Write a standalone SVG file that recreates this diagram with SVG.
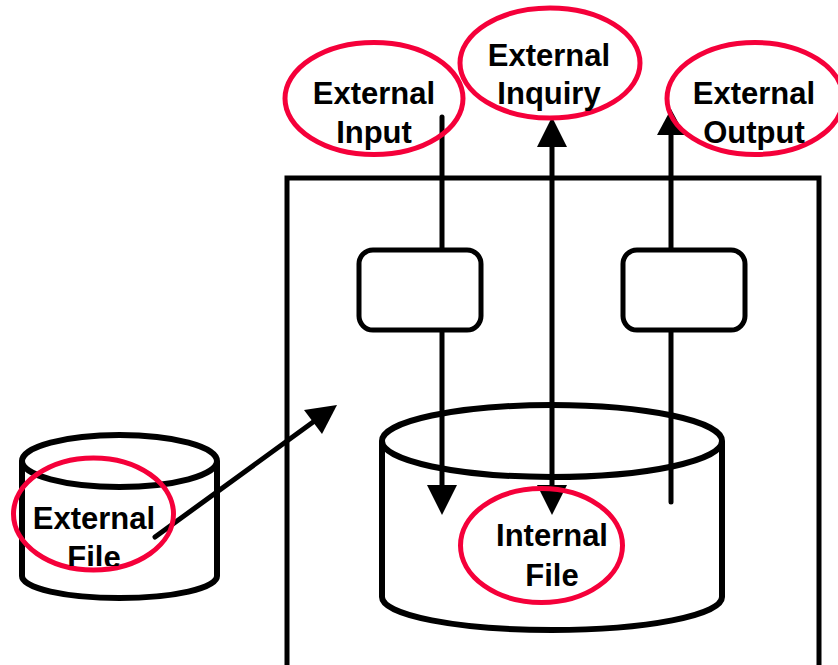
<svg xmlns="http://www.w3.org/2000/svg" width="838" height="665" viewBox="0 0 838 665">
  <defs>
    <style>
      .ln { stroke: #000; stroke-width: 5; fill: none; stroke-linecap: round; }
      .cyl { stroke: #000; stroke-width: 6; fill: #fff; stroke-linejoin: round; }
      .box { stroke: #000; stroke-width: 5; fill: #fff; }
      .hl { stroke: #f5003a; stroke-width: 5; fill: none; }
      .tx { font-family: "Liberation Sans", Arial, sans-serif; font-weight: bold; font-size: 31px; fill: #000; text-anchor: middle; }
      .ah { fill: #000; }
    </style>
    <clipPath id="fileclip">
      <rect x="0" y="0" width="838" height="566"/>
    </clipPath>
  </defs>
  <rect width="838" height="665" fill="#fff"/>

  <g id="system-boundary">
    <rect x="287" y="178" width="532" height="540" style="fill:none;stroke:#000;stroke-width:5"/>
  </g>

  <g id="external-file">
    <path class="cyl" d="M22 461 L22 576 A97.5 22 0 0 0 217 576 L217 461"/>
    <ellipse cx="119.5" cy="461" rx="97.5" ry="26" class="cyl"/>
  </g>

  <g id="internal-file">
    <path class="cyl" d="M382 441 L382 597 A170 33 0 0 0 722 597 L722 441"/>
    <ellipse cx="552" cy="441" rx="170" ry="36" class="cyl"/>
  </g>

  <g id="connectors">
    <line x1="442" y1="117" x2="442" y2="488" class="ln"/>
    <polygon class="ah" points="427,485 457,485 442,515"/>
    <line x1="552" y1="145" x2="552" y2="488" class="ln"/>
    <polygon class="ah" points="537,147 567,147 552,117"/>
    <polygon class="ah" points="537,485 567,485 552,515"/>
    <line x1="671" y1="133" x2="671" y2="502" class="ln"/>
    <polygon class="ah" points="657,135 685,135 671,109"/>
    <line x1="155" y1="537" x2="320" y2="417" class="ln"/>
    <polygon class="ah" points="337,405 304,410 322,434"/>
  </g>

  <g id="process-input">
    <rect x="359" y="250" width="122" height="80" rx="14" class="box"/>
  </g>
  <g id="process-output">
    <rect x="623" y="250" width="122" height="80" rx="14" class="box"/>
  </g>

  <g id="label-external-input">
    <ellipse cx="374" cy="98.5" rx="89" ry="56" class="hl"/>
    <text x="374" y="104" class="tx">External</text>
    <text x="374" y="143" class="tx">Input</text>
  </g>
  <g id="label-external-inquiry">
    <ellipse cx="550" cy="63" rx="90" ry="55" class="hl"/>
    <text x="549" y="66" class="tx">External</text>
    <text x="549" y="104" class="tx">Inquiry</text>
  </g>
  <g id="label-external-output">
    <ellipse cx="755" cy="98.5" rx="88" ry="56" class="hl"/>
    <text x="754" y="104" class="tx">External</text>
    <text x="754" y="143" class="tx">Output</text>
  </g>
  <g id="label-internal-file">
    <ellipse cx="541.5" cy="545.5" rx="81" ry="57" class="hl"/>
    <text x="552" y="546" class="tx">Internal</text>
    <text x="552" y="586" class="tx">File</text>
  </g>
  <g id="label-external-file">
    <ellipse cx="93.5" cy="514" rx="80" ry="56" class="hl"/>
    <text x="94" y="529" class="tx">External</text>
    <text x="94" y="568" class="tx" clip-path="url(#fileclip)">File</text>
  </g>
</svg>
